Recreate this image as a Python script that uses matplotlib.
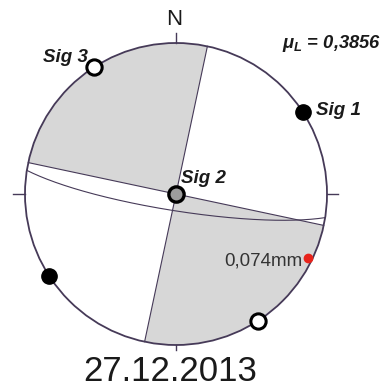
import numpy as np
import matplotlib.pyplot as plt
from matplotlib import font_manager
from matplotlib.patches import Polygon, Circle

# nodal planes (vertical) bounding the shaded quadrants
plane_strikes = [12, 102]
plane_dips = [90, 90]

# measured fault plane
fault_strike = 99
fault_dip = 81

# principal stress axes (trend, plunge)
sig_names = ['Sig 1', 'Sig 2', 'Sig 3']
sig_trends = [57, 0, 327]
sig_plunges = [0, 90, 0]
# opposite ends of the horizontal axes
sig1_back = (237, 0)
sig3_back = (147, 0)

# slip vector with its displacement
slip_trend = 116
slip_plunge = 3
slip_label = '0,074mm'

friction_label = r'$\mu_L$ = 0,3856'
date_label = '27.12.2013'

LINE = '#463a58'
SHADE = '#d7d7d7'

plt.rcParams['mathtext.fontset'] = 'custom'
plt.rcParams['mathtext.it'] = 'Liberation Sans:italic:bold'
plt.rcParams['mathtext.rm'] = 'Liberation Sans:bold'

installed = {f.name for f in font_manager.fontManager.ttflist}
narrow = 'Liberation Sans Narrow' if 'Liberation Sans Narrow' in installed else 'Liberation Sans'


def project(trend, plunge):
    # lower hemisphere, equal area
    t = np.radians(trend)
    r = np.sqrt(2) * np.sin(np.radians(90 - np.asarray(plunge)) / 2)
    return r * np.sin(t), r * np.cos(t)


def great_circle(strike, dip, n=181):
    s = np.radians(strike)
    d = np.radians(dip)
    a = np.linspace(0, np.pi, n)
    sv = np.array([np.sin(s), np.cos(s), 0.0])
    dv = np.array([np.cos(d) * np.sin(s + np.pi / 2), np.cos(d) * np.cos(s + np.pi / 2), np.sin(d)])
    v = np.outer(np.cos(a), sv) + np.outer(np.sin(a), dv)
    trend = np.degrees(np.arctan2(v[:, 0], v[:, 1]))
    plunge = np.degrees(np.arcsin(np.clip(v[:, 2], -1, 1)))
    return project(trend, plunge)


def quadrant(az0, az1):
    az = np.linspace(az0, az1, 60)
    x, y = project(az, 0)
    return np.column_stack([np.r_[0, x], np.r_[0, y]])


fig = plt.figure(figsize=(3.85, 3.89), dpi=100)
ax = fig.add_axes([0, 0, 1, 1])
ax.set_xlim(-176 / 151, 209 / 151)
ax.set_ylim(-195 / 151, 194 / 151)
ax.set_aspect('equal')
ax.axis('off')

# shaded quadrants
ax.add_patch(Polygon(quadrant(plane_strikes[1] + 180, plane_strikes[0] + 360), closed=True,
                     facecolor=SHADE, edgecolor='none', zorder=1))
ax.add_patch(Polygon(quadrant(plane_strikes[1], plane_strikes[0] + 180), closed=True,
                     facecolor=SHADE, edgecolor='none', zorder=1))

for s, d in zip(plane_strikes, plane_dips):
    x, y = great_circle(s, d)
    ax.plot(x, y, color=LINE, lw=0.8, zorder=2)

x, y = great_circle(fault_strike, fault_dip)
ax.plot(x, y, color=LINE, lw=0.8, zorder=2)

# primitive circle and ticks
ax.add_patch(Circle((0, 0), 1, fill=False, edgecolor=LINE, lw=1.3, zorder=3))
ax.plot([0, 0], [1, 1.065], color=LINE, lw=1.0, zorder=3)
ax.plot([0, 0], [-1, -1.035], color=LINE, lw=1.0, zorder=3)
ax.plot([-1, -1.08], [0, 0], color=LINE, lw=1.0, zorder=3)
ax.plot([1, 1.07], [0, 0], color=LINE, lw=1.0, zorder=3)
ax.text(-0.015, 1.155, 'N', ha='center', va='center', fontsize=16, family=narrow,
        color='#1a1a1a')

# stress axes
mk = dict(ms=11, zorder=5, clip_on=False)
x, y = project(sig_trends[0], sig_plunges[0])
ax.plot(x, y, 'o', color='black', **mk)
x, y = project(*sig1_back)
ax.plot(x, y, 'o', color='black', **mk)
x, y = project(sig_trends[2], sig_plunges[2])
ax.plot(x, y, 'o', mfc='white', mec='black', mew=2.2, **mk)
x, y = project(*sig3_back)
ax.plot(x, y, 'o', mfc='white', mec='black', mew=2.2, **mk)
x, y = project(sig_trends[1], sig_plunges[1])
ax.plot(x, y, 'o', mfc='#9c9c9c', mec='black', mew=2.4, **mk)

lab = dict(fontsize=13.5, fontweight='bold', fontstyle='italic', family='Liberation Sans',
           color='#1a1a1a', va='center')
ax.text(0.93, 0.55, sig_names[0], ha='left', **lab)
ax.text(0.03, 0.10, sig_names[1], ha='left', **lab)
ax.text(-0.585, 0.905, sig_names[2], ha='right', **lab)
ax.text(0.70, 1.0, friction_label, ha='left', fontsize=13.2, fontweight='bold',
        fontstyle='italic', family='Liberation Sans', color='#1a1a1a', va='center')

# slip vector
x, y = project(slip_trend, slip_plunge)
ax.plot(x, y, 'o', color='#e8231b', ms=6, zorder=6)
ax.text(x - 0.04, y - 0.02, slip_label, ha='right', va='center', fontsize=13.5,
        family='Liberation Sans', color='#333333', zorder=6)

ax.text(-0.04, -1.178, date_label, ha='center', va='center', fontsize=25,
        family='Liberation Sans', color='#1a1a1a')

fig.savefig('out.png', dpi=100)
